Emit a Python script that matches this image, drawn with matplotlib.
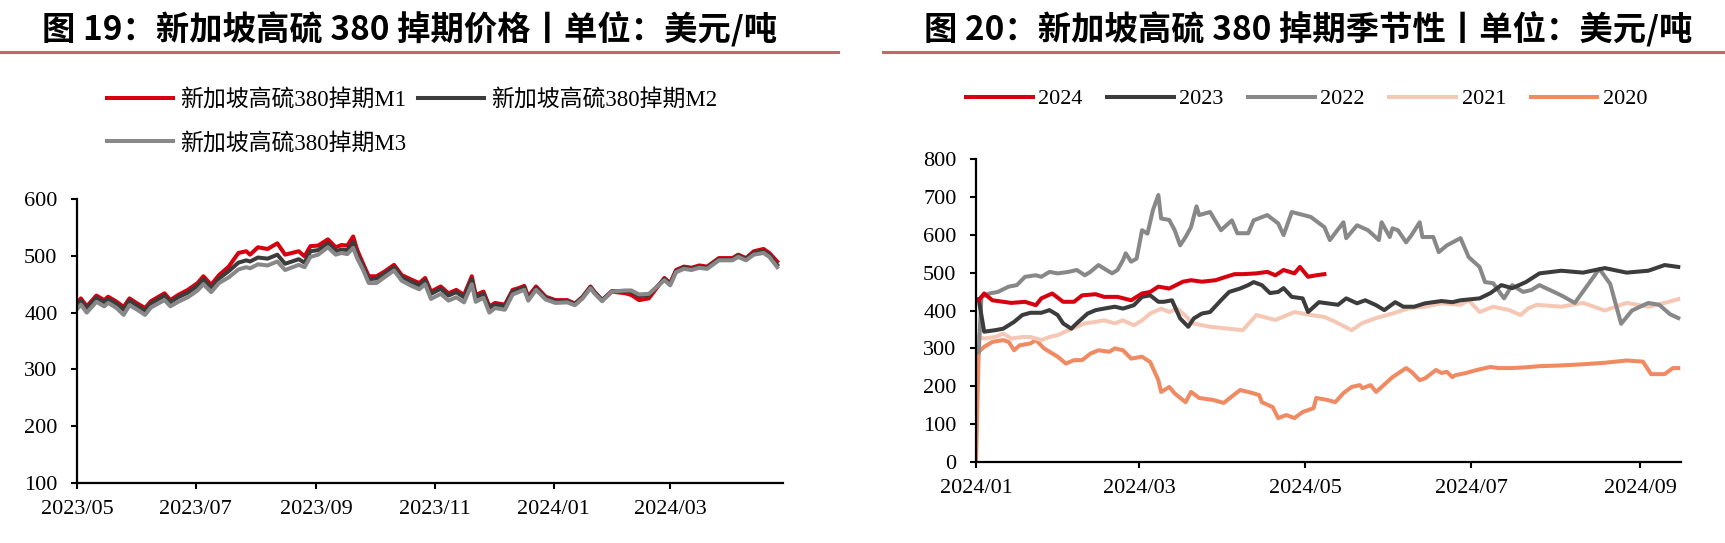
import matplotlib
matplotlib.use("Agg")
import matplotlib.pyplot as plt
import matplotlib.dates as mdates
from matplotlib.lines import Line2D
import pandas as pd

plt.rcParams['font.family'] = ['Liberation Serif', 'Noto Sans CJK SC']

# ---------------- Left chart data ----------------
dates_left = ['2023-05-01','2023-05-03','2023-05-06','2023-05-11','2023-05-15','2023-05-17','2023-05-21','2023-05-25','2023-05-28','2023-06-01',
 '2023-06-05','2023-06-08','2023-06-15','2023-06-18','2023-06-22','2023-06-27','2023-07-02','2023-07-05','2023-07-09','2023-07-13',
 '2023-07-18','2023-07-23','2023-07-27','2023-07-29','2023-08-02','2023-08-07','2023-08-12','2023-08-16','2023-08-23','2023-08-26',
 '2023-08-29','2023-09-02','2023-09-07','2023-09-11','2023-09-14','2023-09-17','2023-09-20','2023-09-22','2023-09-25','2023-09-28',
 '2023-10-02','2023-10-06','2023-10-11','2023-10-15','2023-10-20','2023-10-24','2023-10-27','2023-10-30','2023-11-04','2023-11-08',
 '2023-11-12','2023-11-16','2023-11-20','2023-11-22','2023-11-26','2023-11-29','2023-12-02','2023-12-07','2023-12-11','2023-12-14',
 '2023-12-17','2023-12-19','2023-12-23','2023-12-28','2024-01-02','2024-01-08','2024-01-12','2024-01-16','2024-01-20','2024-01-22',
 '2024-01-26','2024-01-31','2024-02-07','2024-02-10','2024-02-14','2024-02-19','2024-02-23','2024-02-27','2024-03-01','2024-03-04',
 '2024-03-08','2024-03-12','2024-03-16','2024-03-20','2024-03-26','2024-04-02','2024-04-05','2024-04-09','2024-04-13','2024-04-18',
 '2024-04-21','2024-04-25']
m1 = [418,425,411,430,422,428,420,410,425,416, 408,420,434,422,431,440,452,464,449,466,
      481,505,508,502,515,512,522,502,508,499, 517,518,529,515,519,518,534,511,487,464,
      464,472,484,466,458,452,461,437,446,434, 440,431,464,431,437,411,417,414,440,443,
      447,428,446,428,422,422,416,428,446,437, 422,437,434,431,422,425,443,461,452,475,
      481,479,483,481,496,496,502,496,508,512, 505,490]
m2 = [414,421,407,426,418,424,416,405,421,412, 403,416,430,418,427,435,447,459,443,460,
      473,488,492,490,497,495,502,486,494,488, 508,510,522,508,511,510,524,503,482,459,
      460,468,480,462,454,448,457,433,442,430, 436,427,459,427,433,408,414,411,437,440,
      444,425,443,426,420,420,415,427,445,436, 422,438,438,437,429,431,445,459,450,473,
      479,477,481,479,494,494,500,494,505,508, 502,484]
m3 = [406,414,400,419,411,417,409,396,413,405, 396,409,422,411,419,427,439,450,436,452,
      462,476,480,478,485,483,490,475,484,480, 498,502,515,502,505,503,514,496,476,452,
      452,462,474,456,447,441,450,424,433,421, 427,418,450,419,426,400,408,405,432,436,
      440,421,440,423,417,418,413,425,443,434, 420,437,439,439,432,433,445,457,448,471,
      477,475,479,477,492,492,498,492,502,505, 498,480]
left_labels = ['新加坡高硫380掉期M1', '新加坡高硫380掉期M2', '新加坡高硫380掉期M3']
left_ticks = ['2023-05-01','2023-07-01','2023-09-01','2023-11-01','2024-01-01','2024-03-01']

# ---------------- Right chart data (seasonal, mapped to 2024) ----------------
d2024 = ['01-02','01-04','01-07','01-11','01-14','01-19','01-23','01-25','01-29','02-02','02-06','02-09','02-14','02-17','02-22',
         '02-27','03-02','03-05','03-08','03-12','03-17','03-20','03-24','03-29','04-01','04-05','04-08','04-13','04-17','04-20',
         '04-23','04-27','04-29','05-02','05-05','05-08']
v2024 = [427,445,427,423,420,423,414,432,445,423,423,440,443,436,436,427,445,449,463,458,476,480,476,480,487,496,496,498,502,493,
         507,498,515,489,493,496]

d2023 = ['01-02','01-04','01-08','01-11','01-15','01-18','01-21','01-25','01-28','01-31','02-02','02-05','02-07','02-11','02-14',
         '02-17','02-21','02-24','02-28','03-02','03-05','03-08','03-10','03-13','03-16','03-19','03-21','03-24','03-27','03-31',
         '04-03','04-07','04-10','04-12','04-15','04-18','04-21','04-23','04-26','04-30','05-02','05-06','05-09','05-13','05-16',
         '05-20','05-23','05-27','05-30','06-03','06-06','06-10','06-14','06-20','06-24','06-27','07-04','07-08','07-12','07-16',
         '07-21','07-26','08-03','08-11','08-19','08-27','09-04','09-10','09-15']
v2023 = [430,344,348,352,370,388,394,394,401,388,366,352,366,392,401,405,410,405,414,436,440,423,423,427,379,357,379,392,396,427,
         449,458,467,475,467,446,449,459,436,432,396,422,419,415,432,419,427,414,401,422,410,410,419,425,422,427,432,446,467,459,
         475,498,505,500,512,500,505,520,515]

d2022 = ['01-02','01-03','01-06','01-09','01-13','01-16','01-19','01-23','01-25','01-28','01-31','02-04','02-07','02-10','02-12','02-15',
         '02-17','02-20','02-22','02-24','02-25','02-27','02-29','03-02','03-04','03-06','03-08','03-09','03-12','03-14','03-16',
         '03-18','03-20','03-22','03-23','03-27','03-31','04-04','04-06','04-10','04-12','04-17','04-21','04-23','04-26','05-03',
         '05-08','05-10','05-15','05-16','05-20','05-24','05-28','05-29','06-01','06-02','06-04','06-07','06-09','06-12','06-13',
         '06-17','06-19','06-22','06-27','06-30','07-04','07-06','07-09','07-13','07-16','07-20','07-23','07-26','08-03','08-08',
         '08-13','08-17','08-21','08-25','08-29','09-04','09-08','09-12','09-15']
v2022 = [290,436,445,449,463,467,489,493,489,502,498,502,507,493,502,520,511,498,507,533,551,529,537,612,603,665,705,643,639,612,572,
         594,620,675,652,660,612,638,604,604,638,652,630,599,660,647,620,586,633,591,625,612,586,633,594,617,612,580,599,633,594,
         594,554,572,591,541,515,475,472,432,467,449,454,467,440,420,470,510,470,365,400,420,415,390,380]

d2021 = ['01-02','01-04','01-08','01-11','01-14','01-18','01-21','01-25','01-28','01-31','02-04','02-07','02-10','02-14','02-17',
         '02-21','02-24','02-28','03-02','03-05','03-09','03-12','03-15','03-19','03-20','03-27','04-08','04-13','04-20','04-27',
         '05-03','05-08','05-12','05-18','05-22','05-27','06-02','06-08','06-14','06-20','06-27','06-30','07-04','07-09','07-15',
         '07-19','07-22','07-25','08-03','08-11','08-19','08-27','09-04','09-10','09-15']
v2021 = [330,326,330,339,326,330,330,322,330,335,348,357,366,370,374,366,374,361,374,392,405,396,405,379,367,357,348,388,375,396,
         388,383,370,348,367,380,392,406,410,419,415,427,396,410,401,388,406,415,410,420,400,420,410,420,430]

d2020 = ['01-01','01-02','01-04','01-07','01-11','01-13','01-15','01-17','01-21','01-23','01-26','01-28','01-31','02-03','02-06',
         '02-09','02-12','02-15','02-19','02-21','02-24','02-27','03-02','03-05','03-08','03-09','03-12','03-14','03-18','03-20',
         '03-23','03-28','04-01','04-07','04-10','04-14','04-15','04-19','04-21','04-24','04-27','04-30','05-04','05-05','05-09',
         '05-12','05-15','05-18','05-21','05-22','05-25','05-27','06-02','06-07','06-09','06-12','06-14','06-18','06-20','06-22',
         '06-24','06-25','06-29','07-03','07-08','07-11','07-16','07-21','07-26','08-03','08-11','08-19','08-27','09-02','09-05',
         '09-10','09-13','09-15']
v2020 = [0,291,304,317,322,317,295,308,313,322,300,291,278,260,269,269,286,295,291,300,295,273,278,264,216,185,198,181,158,185,
         169,164,156,190,185,177,158,145,116,124,116,132,142,169,164,158,182,198,203,195,203,185,224,248,238,216,221,243,235,238,
         224,229,235,243,251,248,248,250,253,255,258,262,268,265,232,232,248,248]

right_years = ['2024', '2023', '2022', '2021', '2020']
right_ticks = ['2024-01-01','2024-03-01','2024-05-01','2024-07-01','2024-09-01']

# ---------------- Styles ----------------
C_RED = '#d7000f'
C_DARK = '#3c3c3c'
C_GRAY = '#888888'
C_PEACH = '#f4c8b5'
C_SALMON = '#ef8a62'
LW = 2.9
FS = 16

fig = plt.figure(figsize=(17.25, 5.43), dpi=100)
W, H = 1725.0, 543.0

ax1 = fig.add_axes([77/W, 60/H, 706/W, 284/H])
ax2 = fig.add_axes([976/W, 81/H, 705/W, 303/H])

def style(ax):
    for s in ['top', 'right']:
        ax.spines[s].set_visible(False)
    for s in ['left', 'bottom']:
        ax.spines[s].set_linewidth(1.6)
        ax.spines[s].set_color('black')
    ax.tick_params(axis='both', direction='out', length=4, width=1.5, labelsize=FS, colors='black')
    ax.tick_params(axis='y', pad=10)
    ax.tick_params(axis='x', pad=8)

# Left chart
xl = pd.to_datetime(dates_left)
l1, = ax1.plot(xl, m1, color=C_RED, lw=LW, label=left_labels[0])
l2, = ax1.plot(xl, m2, color=C_DARK, lw=LW, label=left_labels[1])
l3, = ax1.plot(xl, m3, color=C_GRAY, lw=LW, label=left_labels[2])
ax1.set_ylim(100, 600)
ax1.set_yticks([100, 200, 300, 400, 500, 600])
ax1.set_xlim(pd.Timestamp('2023-05-01'), pd.Timestamp('2024-04-28'))
ax1.set_xticks(pd.to_datetime(left_ticks))
ax1.xaxis.set_major_formatter(mdates.DateFormatter('%Y/%m'))
style(ax1)

fig.legend([l1, l3, l2], [left_labels[0], left_labels[2], left_labels[1]], ncol=2,
           loc='center left', bbox_to_anchor=(107/W, 1-121.5/H), bbox_transform=fig.transFigure,
           frameon=False, fontsize=16.5, handlelength=2.9, handletextpad=0.3, columnspacing=0.5,
           labelspacing=0.95, borderpad=0, borderaxespad=0)

# Right chart
def to_dt(lst):
    return pd.to_datetime(['2024-' + s for s in lst])

r20, = ax2.plot(to_dt(d2020), v2020, color=C_SALMON, lw=LW, label='2020')
r21, = ax2.plot(to_dt(d2021), v2021, color=C_PEACH, lw=LW, label='2021')
r22, = ax2.plot(to_dt(d2022), v2022, color=C_GRAY, lw=LW, label='2022')
r23, = ax2.plot(to_dt(d2023), v2023, color=C_DARK, lw=LW, label='2023')
r24, = ax2.plot(to_dt(d2024), v2024, color=C_RED, lw=LW, label='2024')
ax2.set_ylim(0, 800)
ax2.set_yticks(range(0, 801, 100))
ax2.set_xlim(pd.Timestamp('2024-01-01'), pd.Timestamp('2024-09-16'))
ax2.set_xticks(pd.to_datetime(right_ticks))
ax2.xaxis.set_major_formatter(mdates.DateFormatter('%Y/%m'))
style(ax2)

fig.legend([r24, r23, r22, r21, r20], right_years, ncol=5,
           loc='center left', bbox_to_anchor=(966/W, 1-99/H), bbox_transform=fig.transFigure,
           frameon=False, fontsize=FS, handlelength=3.0, handletextpad=0.25, columnspacing=1.1,
           borderpad=0, borderaxespad=0)

# Titles and rules
title_kw = dict(fontsize=24, fontweight='bold', family=['Noto Sans CJK SC', 'DejaVu Sans'],
                va='center', ha='left', color='black')
fig.text(42/W, 1-30/H, '图 19：新加坡高硫 380 掉期价格丨单位：美元/吨', **title_kw)
fig.text(924/W, 1-30/H, '图 20：新加坡高硫 380 掉期季节性丨单位：美元/吨', **title_kw)
RULE = '#c0686c'
fig.add_artist(Line2D([0, 838/W], [1-52/H, 1-52/H], color=RULE, lw=2.2, transform=fig.transFigure))
fig.add_artist(Line2D([883/W, 1.0], [1-52/H, 1-52/H], color=RULE, lw=2.2, transform=fig.transFigure))

fig.savefig('out.png', dpi=100)
